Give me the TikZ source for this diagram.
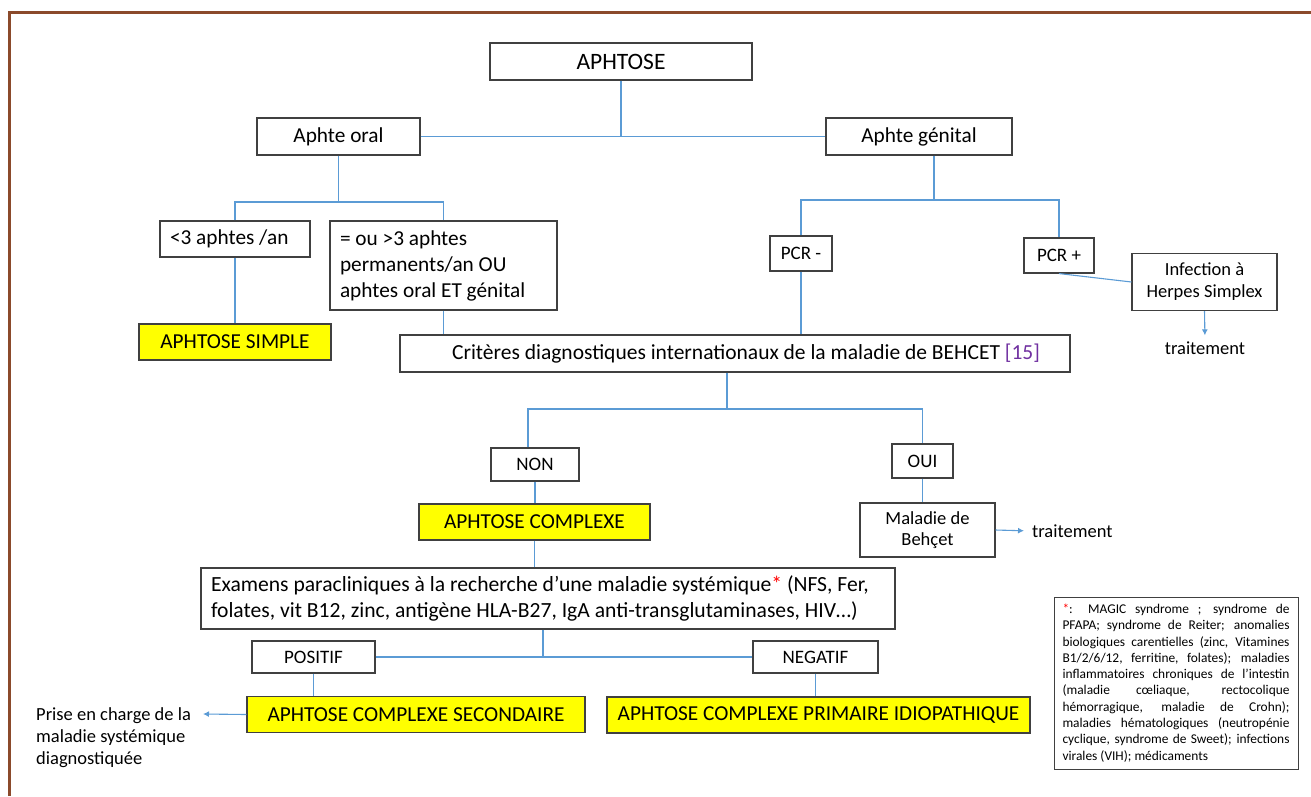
\documentclass[tikz,border=0pt]{standalone}
\usepackage{fontspec}
\setmainfont{Carlito}
\usetikzlibrary{arrows.meta}
\definecolor{connblue}{HTML}{5B9BD5}
\definecolor{bord}{HTML}{404040}
\definecolor{framebrown}{HTML}{8B4A2B}
\definecolor{refc}{HTML}{7030A0}
\definecolor{yel}{HTML}{FFFF00}
\tikzset{
 box/.style={draw=bord, line width=1.1pt, inner sep=0pt, align=center, font=\fontsize{21.3}{25}\selectfont},
 ybox/.style={box, fill=yel},
 sbox/.style={box, font=\fontsize{19}{22}\selectfont},
 conn/.style={draw=connblue, line width=1.1pt},
 arr/.style={conn, -{Latex[length=6pt,width=6pt]}},
 plain/.style={inner sep=0pt, font=\fontsize{18.5}{22}\selectfont, align=left},
}
\begin{document}
\begin{tikzpicture}[x=1pt,y=-1pt]
\useasboundingbox (0,0) rectangle (1311,796);
\draw[framebrown, line width=3pt] (9,796) -- (9,12) -- (1311,12);

\node[box, font=\fontsize{23.5}{28}\selectfont, minimum width=262pt, minimum height=37pt] (aph) at (621,61.5) {APHTOSE};
\node[box, minimum width=163pt, minimum height=37pt] (oral) at (338.5,136.5) {Aphte oral};
\node[box, minimum width=186pt, minimum height=37pt] (gen) at (919,136.5) {Aphte génital};
\node[box, minimum width=150pt, minimum height=36pt] (lt3) at (235,239) {\makebox[130pt][l]{<3 aphtes /an}};
\node[box, minimum width=227pt, minimum height=89pt, align=left, font=\fontsize{21.3}{26}\selectfont] (ge3) at (443.5,265.5) {\makebox[207pt][l]{= ou >3 aphtes}\\permanents/an OU\\aphtes oral ET génital};
\node[ybox, minimum width=192pt, minimum height=36pt] (simple) at (235,342) {APHTOSE SIMPLE};
\node[sbox, minimum width=62pt, minimum height=35pt] (pcrm) at (801,253.5) {PCR -};
\node[sbox, minimum width=70pt, minimum height=35pt] (pcrp) at (1059,255.5) {PCR +};
\node[box, font=\fontsize{18.5}{22}\selectfont, minimum width=145pt, minimum height=57pt] (inf) at (1204.5,282) {Infection à\\Herpes Simplex};
\node[plain] (t1) at (1205,348) {traitement};
\node[box, font=\fontsize{21.5}{25}\selectfont, minimum width=670pt, minimum height=37pt] (crit) at (735,353.5) {\hspace*{22pt}Critères diagnostiques internationaux de la maladie de BEHCET \textcolor{refc}{[15]}};
\node[sbox, minimum width=88pt, minimum height=33pt] (non) at (535,464.5) {NON};
\node[sbox, minimum width=61pt, minimum height=34pt] (oui) at (922.5,461) {OUI};
\node[ybox, minimum width=231pt, minimum height=36pt] (cplx) at (534.5,522) {APHTOSE COMPLEXE};
\node[box, font=\fontsize{18.5}{21}\selectfont, minimum width=135pt, minimum height=54pt] (beh) at (927.5,530) {Maladie de\\Behçet};
\node[plain, anchor=west] (t2) at (1032,531) {traitement};
\node[box, minimum width=694pt, minimum height=61pt, align=left, font=\fontsize{21.6}{26}\selectfont] (exam) at (548,598.5) {\makebox[674pt][l]{Examens paracliniques à la recherche d’une maladie systémique\textcolor{red}{*} (NFS, Fer,}\\folates, vit B12, zinc, antigène HLA-B27, IgA anti-transglutaminases, HIV…)};
\node[sbox, minimum width=123pt, minimum height=32pt] (pos) at (313.5,657) {POSITIF};
\node[sbox, minimum width=125pt, minimum height=32pt] (neg) at (815.5,657) {NEGATIF};
\node[ybox, minimum width=338pt, minimum height=36pt] (sec) at (416,714.5) {APHTOSE COMPLEXE SECONDAIRE};
\node[ybox, minimum width=423pt, minimum height=36pt] (prim) at (818.5,715) {APHTOSE COMPLEXE PRIMAIRE IDIOPATHIQUE};
\node[plain, anchor=west] (prise) at (36,738) {Prise en charge de la\\maladie systémique\\diagnostiquée};
\node[draw=bord, line width=1pt, inner sep=0pt, minimum width=244pt, minimum height=172pt, font=\fontsize{13.4}{16.3}\selectfont, align=left] (leg) at (1176,683) {%
\makebox[227pt][s]{\textcolor{red}{*}: MAGIC syndrome ; syndrome de}\\
\makebox[227pt][s]{PFAPA; syndrome de Reiter; anomalies}\\
\makebox[227pt][s]{biologiques carentielles (zinc, Vitamines}\\
\makebox[227pt][s]{B1/2/6/12, ferritine, folates); maladies}\\
\makebox[227pt][s]{inflammatoires chroniques de l’intestin}\\
\makebox[227pt][s]{(maladie cœliaque, rectocolique}\\
\makebox[227pt][s]{hémorragique, maladie de Crohn);}\\
\makebox[227pt][s]{maladies hématologiques (neutropénie}\\
\makebox[227pt][s]{cyclique, syndrome de Sweet); infections}\\
\makebox[227pt][l]{virales (VIH); médicaments}};

\coordinate (j1) at (338.5,202);
\coordinate (j2) at (934,200);
\coordinate (j3) at (727,409);
\coordinate (j3l) at (528,409);
\coordinate (j5) at (543,657);
\coordinate (pa) at (203,714);

\draw[conn] (aph.south) -- (aph.south |- oral.east);
\draw[conn] (oral.east) -- (gen.west);
\draw[conn] (oral.south) -- (j1);
\draw[conn] (lt3.north) |- (j1) -| (ge3.north);
\draw[conn] (lt3.south) -- (simple.north);
\draw[conn] (ge3.south) -- (ge3.south |- crit.north);
\draw[conn] (j2 |- gen.south) -- (j2);
\draw[conn] (pcrm.north) |- (j2) -| (pcrp.north);
\draw[conn] (pcrm.south) -- (pcrm.south |- crit.north);
\draw[conn] (pcrp.south) -- (inf.west);
\draw[arr, shorten >=6pt] (inf.south) -- (t1.north);
\draw[conn] (crit.south -| j3) -- (j3);
\draw[conn] (j3l |- non.north) -- (j3l) -- (j3l -| oui.north) -- (oui.north);
\draw[conn] (oui.south) -- (oui.south |- beh.north);
\draw[arr, shorten >=8pt] (beh.east) -- (t2.west);
\draw[conn] (non.south) -- (non.south |- cplx.north);
\draw[conn] (cplx.south) -- (cplx.south |- exam.north);
\draw[conn] (exam.south -| j5) -- (j5);
\draw[conn] (pos.east) -- (neg.west);
\draw[conn] (pos.south) -- (pos.south |- sec.north);
\draw[conn] (neg.south) -- (neg.south |- prim.north);
\draw[arr] (sec.west) -- (pa);
\end{tikzpicture}
\end{document}
